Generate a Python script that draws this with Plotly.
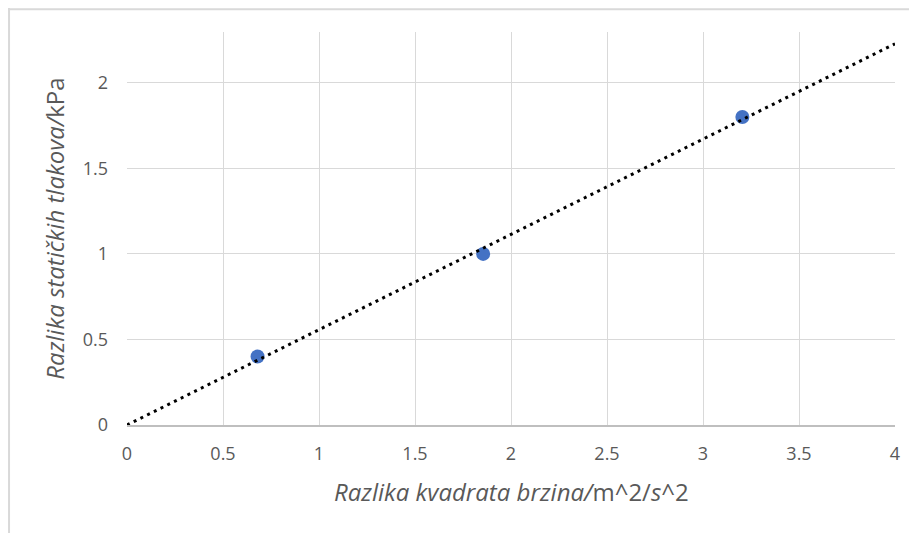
import numpy as np
import plotly.graph_objects as go

# Data
x_vals = [0.68, 1.855, 3.205]
y_vals = [0.40, 1.00, 1.80]

x_title = "<i>Razlika kvadrata brzina/</i>m^2/<i>s</i>^2"
y_title = "<i>Razlika statičkih tlakova/</i>kPa"
x_ticks = [0, 0.5, 1, 1.5, 2, 2.5, 3, 3.5, 4]
y_ticks = [0, 0.5, 1, 1.5, 2]

# Linear trendline through origin (least squares, intercept = 0)
xa = np.array(x_vals)
ya = np.array(y_vals)
slope = float((xa * ya).sum() / (xa * xa).sum())
trend_x = [0, 4]
trend_y = [slope * v for v in trend_x]

fig = go.Figure()
fig.add_trace(go.Scatter(
    x=x_vals, y=y_vals, mode="markers",
    marker=dict(color="#4472C4", size=14, line=dict(width=0)),
    showlegend=False,
))
fig.add_trace(go.Scatter(
    x=trend_x, y=trend_y, mode="lines",
    line=dict(color="black", width=3, dash="3px,4.5px"),
    hoverinfo="skip", showlegend=False,
))

grid = "#d9d9d9"
font_col = "#595959"
fig.update_layout(
    width=917, height=533,
    margin=dict(l=119, r=30, t=24, b=116, autoexpand=False),
    paper_bgcolor="white", plot_bgcolor="white",
    font=dict(family="Open Sans", color=font_col, size=18),
    xaxis=dict(
        range=[0, 4], tickvals=x_ticks, ticktext=[f"{v:g}" for v in x_ticks],
        showgrid=True, gridcolor=grid, gridwidth=1,
        showline=True, linecolor="#bfbfbf", linewidth=1.5,
        zeroline=False, ticks="", ticklabelstandoff=12,
        fixedrange=True, automargin=False,
    ),
    yaxis=dict(
        range=[0, 2.297], tickvals=y_ticks, ticktext=[f"{v:g}" for v in y_ticks],
        showgrid=True, gridcolor=grid, gridwidth=1,
        showline=False, zeroline=False, ticks="", ticklabelstandoff=18,
        title=dict(text=y_title, font=dict(size=24, color=font_col), standoff=11),
        fixedrange=True, automargin=False,
    ),
    annotations=[
        dict(text=x_title, xref="paper", yref="paper", x=0.5, y=-0.168,
             xanchor="center", yanchor="middle", showarrow=False,
             font=dict(size=24, color=font_col)),
    ],
    shapes=[
        dict(type="line", xref="paper", yref="paper",
             x0=-0.2, x1=1.1, y0=1.058, y1=1.058,
             line=dict(color=grid, width=2)),
        dict(type="line", xref="paper", yref="paper",
             x0=-0.1536, x1=-0.1536, y0=1.1, y1=-0.35,
             line=dict(color=grid, width=2)),
    ],
)

fig.write_html("out.html")
